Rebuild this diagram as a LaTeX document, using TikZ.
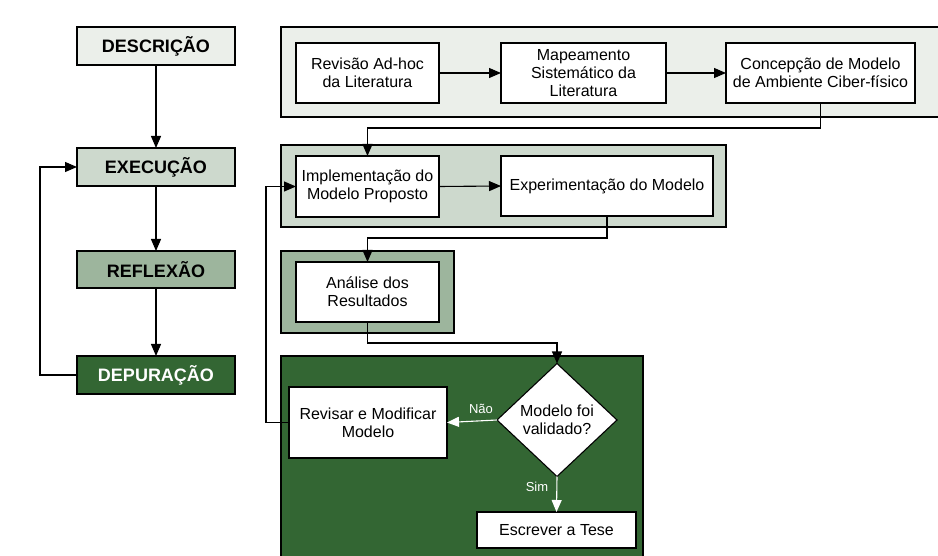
\documentclass[tikz,border=0pt]{standalone}
\usepackage{fontspec}
\setmainfont{Liberation Sans}
\usetikzlibrary{arrows.meta,shapes.geometric,calc}
\definecolor{cA}{HTML}{EBEFEA}
\definecolor{cB}{HTML}{CDD9CD}
\definecolor{cC}{HTML}{9DB59D}
\definecolor{cD}{HTML}{336633}
\tikzset{
  phase/.style={draw=black, line width=1.1pt, inner sep=0pt, outer sep=0pt,
    minimum width=158pt, minimum height=38pt,
    font=\fontsize{18}{20}\selectfont\bfseries},
  grp/.style={draw=black, line width=1.1pt, inner sep=0pt, outer sep=0pt, anchor=north west},
  task/.style={draw=black, fill=white, line width=1.1pt, inner sep=0pt, outer sep=0pt,
    align=center, minimum height=60pt, font=\fontsize{16}{18}\selectfont},
  arr/.style={draw=black, line width=1.1pt, -{Triangle[length=12pt,width=10pt]}},
  warr/.style={draw=white, line width=1.1pt, -{Triangle[length=12pt,width=10pt,fill=white]}},
  lbl/.style={text=white, font=\fontsize{13}{15}\selectfont, inner sep=0pt}
}
\begin{document}
\begin{tikzpicture}[x=1pt,y=-1pt]
\useasboundingbox (0,0) rectangle (938,556);
\clip (0,0) rectangle (938,556);
\fill[white] (0,0) rectangle (938,556);

% left phases
\node[phase, fill=cA] (desc) at (156,46) {DESCRIÇÃO};
\node[phase, fill=cB] (exec) at (156,167) {EXECUÇÃO};
\node[phase, fill=cC, minimum height=37pt] (refl) at (156,269.5) {REFLEXÃO};
\node[phase, fill=cD, text=white] (depu) at (156,375) {DEPURAÇÃO};
\draw[arr] (desc.south) -- (exec.north);
\draw[arr] (exec.south) -- (refl.north);
\draw[arr] (refl.south) -- (depu.north);
\draw[arr] (depu.west) -- ++(-37,0) |- (exec.west);

% group boxes
\node[grp, fill=cA, minimum width=664pt, minimum height=90pt] (g1) at (281,27) {};
\node[grp, fill=cB, minimum width=445pt, minimum height=82pt] (g2) at (281,145) {};
\node[grp, fill=cC, minimum width=173pt, minimum height=82pt] (g3) at (281,251) {};
\node[grp, fill=cD, minimum width=362pt, minimum height=210pt] (g4) at (281,356) {};

% tasks
\node[task, minimum width=143pt] (rev) at (367.5,73) {Revisão Ad-hoc\\da Literatura};
\node[task, minimum width=165pt] (map) at (583.5,73) {Mapeamento\\Sistemático da\\Literatura};
\node[task, minimum width=189pt] (conc) at (820.5,73) {Concepção de Modelo\\de Ambiente Ciber-físico};
\node[task, minimum width=143pt, minimum height=61pt] (impl) at (367.5,186.5) {Implementação do\\Modelo Proposto};
\node[task, minimum width=212pt] (expm) at (607,186) {Experimentação do Modelo};
\node[task, minimum width=143pt] (anal) at (367.5,292) {Análise dos\\Resultados};
\node[diamond, draw=black, fill=white, line width=1.1pt, inner sep=0pt, outer sep=0pt,
  minimum width=120pt, minimum height=113pt, aspect=1.06, align=center,
  font=\fontsize{16}{18}\selectfont] (dia) at (557,420) {Modelo foi\\validado?};
\node[task, minimum width=158pt, minimum height=71pt] (revm) at (368,422.5) {Revisar e Modificar\\Modelo};
\node[task, minimum width=159pt, minimum height=36pt] (escr) at (556.5,530) {Escrever a Tese};

% connectors
\draw[arr] (rev.east) -- (map.west);
\draw[arr] (map.east) -- (conc.west);
\draw[arr] (conc.south) -- ++(0,25) -| (impl.north);
\draw[arr] (impl.east) -- (expm.west);
\draw[arr] (expm.south) -- ++(0,22) -| (anal.north);
\draw[arr] (anal.south) -- ++(0,21) -| (dia.north);
\draw[warr] (dia.west) -- (revm.east);
\draw[warr] (dia.south) -- (escr.north);
\draw[line width=1.1pt] (revm.west) -- ++(-23,0) coordinate (fb);
\draw[arr] (fb) |- (impl.west);
\node[lbl] (nao) at (481,409) {Não};
\node[lbl] (sim) at (537,487) {Sim};
\end{tikzpicture}
\end{document}
